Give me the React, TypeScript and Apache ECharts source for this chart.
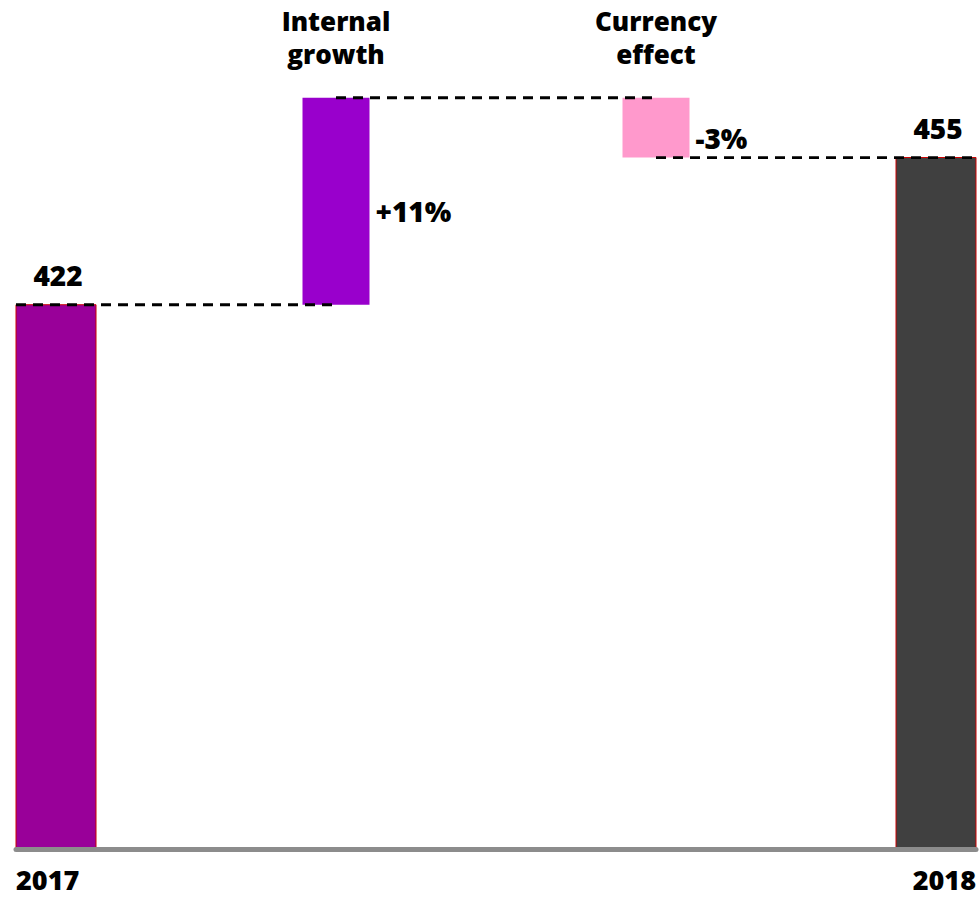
import React, { useEffect, useRef } from "react";
import * as echarts from "echarts";

// ---- data ----
const categories = ["2017", "Internal\ngrowth", "Currency\neffect", "2018"];
const kinds = ["total", "delta", "delta", "total"];
const barValues = [422, 46.4, -13.4, 455];
const valueLabels = ["422", "+11%", "-3%", "455"];
const barColors = ["#990099", "#9900CC", "#FF99CC", "#404040"];
const Y_MIN = 300;
const Y_MAX = 480;

// waterfall rows: [index, start, end]
const rows: number[][] = [];
{
  let running = 0;
  barValues.forEach((v, i) => {
    if (kinds[i] === "total") {
      rows.push([i, Y_MIN, v]);
      running = v;
    } else {
      rows.push([i, running, running + v]);
      running = running + v;
    }
  });
}

const FONT = "'Open Sans', 'Liberation Sans', sans-serif";
const WEIGHT = 800;

export default function App() {
  const ref = useRef<HTMLDivElement>(null);
  useEffect(() => {
    if (!ref.current) return;
    const chart = echarts.init(ref.current, undefined, { renderer: "svg" });
    const last = categories.length - 1;

    const option: any = {
      animation: false,
      backgroundColor: "#ffffff",
      textStyle: { fontFamily: FONT },
      grid: { left: 16, right: 2, top: 46, bottom: 48, containLabel: false },
      xAxis: [
        {
          type: "category",
          data: categories,
          boundaryGap: false,
          position: "bottom",
          axisLine: { show: true, lineStyle: { color: "#8c8c8c", width: 5 } },
          axisTick: { show: false },
          splitLine: { show: false },
          axisLabel: {
            interval: 0,
            margin: 18,
            color: "#000",
            fontFamily: FONT,
            fontWeight: WEIGHT,
            fontSize: 27,
            lineHeight: 24,
            alignMinLabel: "left",
            alignMaxLabel: "right",
            formatter: (v: string, idx: number) => (kinds[idx] === "total" ? v : ""),
          },
          z: 10,
        },
        {
          type: "category",
          data: categories,
          boundaryGap: false,
          position: "top",
          offset: -24,
          axisLine: { show: false },
          axisTick: { show: false },
          splitLine: { show: false },
          axisLabel: {
            interval: 0,
            margin: 0,
            color: "#000",
            fontFamily: FONT,
            fontWeight: WEIGHT,
            fontSize: 26,
            lineHeight: 33,
            formatter: (v: string, idx: number) => (kinds[idx] === "delta" ? v : ""),
          },
        },
      ],
      yAxis: {
        type: "value",
        min: Y_MIN,
        max: Y_MAX,
        show: false,
        splitLine: { show: false },
      },
      series: [
        {
          type: "custom",
          xAxisIndex: 0,
          encode: { x: 0, y: [1, 2] },
          data: rows,
          z: 2,
          renderItem: (params: any, api: any) => {
            const i = api.value(0);
            const s = api.value(1);
            const e = api.value(2);
            const p0 = api.coord([i, s]);
            const p1 = api.coord([i, e]);
            const isTotal = kinds[i] === "total";
            const w = isTotal ? 80 : 67;
            let x = p0[0] - w / 2;
            if (i === 0) x = p0[0];
            if (i === last) x = p0[0] - w;
            const yTop = Math.min(p0[1], p1[1]);
            const h = Math.abs(p0[1] - p1[1]);
            const children: any[] = [
              {
                type: "rect",
                shape: { x, y: yTop, width: w, height: h },
                style: {
                  fill: barColors[i],
                  stroke: isTotal ? "#CC0000" : null,
                  lineWidth: isTotal ? 1 : 0,
                },
              },
            ];
            if (isTotal) {
              children.push({
                type: "text",
                style: {
                  text: valueLabels[i],
                  x: x + w / 2 + 2,
                  y: yTop - 16,
                  align: "center",
                  verticalAlign: "bottom",
                  fill: "#000",
                  font: `${WEIGHT} 28px ${FONT}`,
                },
              });
            } else {
              children.push({
                type: "text",
                style: {
                  text: valueLabels[i],
                  x: x + w + 6,
                  y: yTop + h / 2 + 10,
                  align: "left",
                  verticalAlign: "middle",
                  fill: "#000",
                  font: `${WEIGHT} 28px ${FONT}`,
                },
              });
            }
            return { type: "group", children };
          },
        },
        {
          type: "custom",
          xAxisIndex: 0,
          encode: { x: 0, y: 2 },
          data: rows,
          z: 5,
          renderItem: (params: any, api: any) => {
            const i = api.value(0);
            if (i >= last) return null;
            const e = api.value(2);
            const a = api.coord([i, e]);
            const b = api.coord([i + 1, e]);
            return {
              type: "line",
              shape: { x1: a[0], y1: a[1], x2: b[0], y2: b[1] },
              style: { stroke: "#000", lineWidth: 2.8, lineDash: [10, 7] },
            };
          },
        },
      ],
    };
    chart.setOption(option);
    return () => chart.dispose();
  }, []);

  return (
    <div
      ref={ref}
      style={{ position: "fixed", left: 0, top: 0, width: 979, height: 897, background: "#fff" }}
    />
  );
}
